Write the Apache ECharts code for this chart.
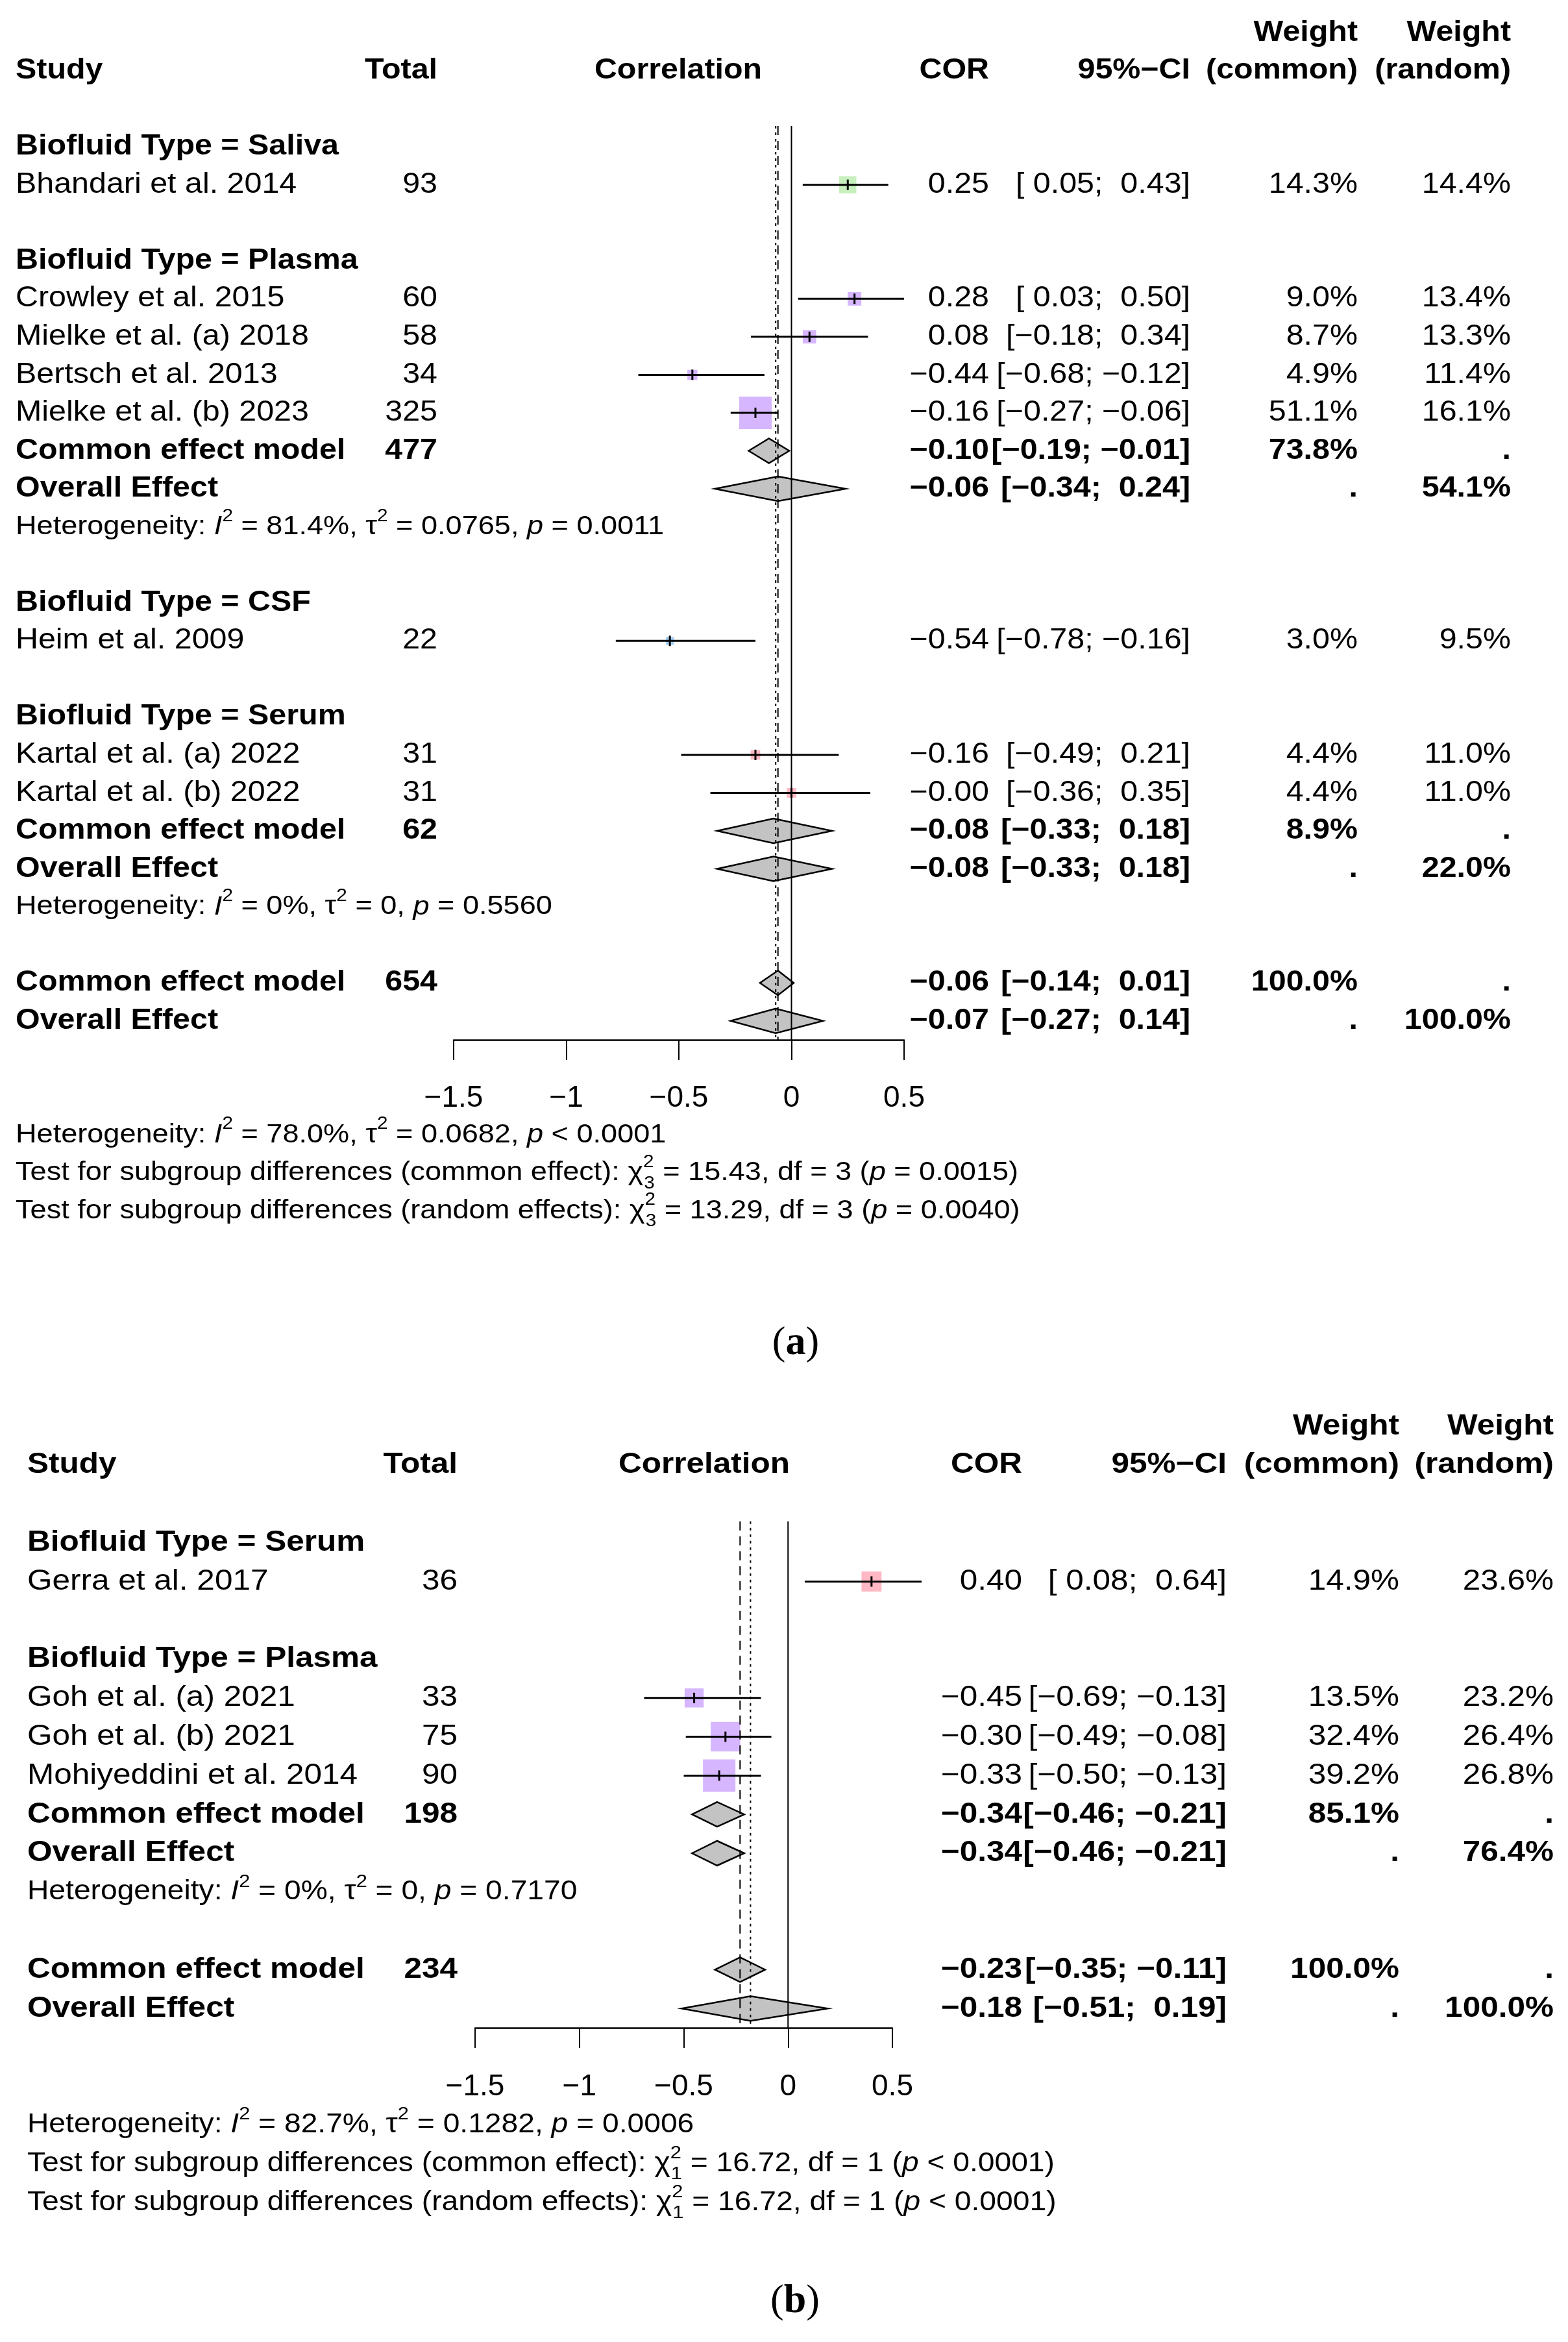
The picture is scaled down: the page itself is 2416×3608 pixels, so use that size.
<!DOCTYPE html>
<html>
<head>
<meta charset="utf-8">
<title>Forest plots</title>
<script src="https://cdn.jsdelivr.net/npm/echarts@6.0.0/dist/echarts.min.js"></script>
<style>
  html, body { margin: 0; padding: 0; background: #fff; }
  #chart { width: 2416px; height: 3608px; }
</style>
</head>
<body>
<div id="chart"></div>
<script>
const FONT = '"Liberation Sans", Arial, Helvetica, sans-serif'
const SERIF = '"Liberation Serif", "Times New Roman", serif'
const MINUS = '\u2212'
const SX = 1.1
const SQ_MAX = 50
const DIAMOND_H = 19

const GROUP_COLORS = { Saliva: '#c8f0be', Plasma: '#d6b6ff', CSF: '#9fcdf6', Serum: '#ffb8c4' }

const ticks = [-1.5, -1, -0.5, 0, 0.5]
const tickLabels = [MINUS + '1.5', MINUS + '1', MINUS + '0.5', '0', '0.5']

// panel (a)
const groupsA = ['Saliva', 'Plasma', 'CSF', 'Serum']
const studiesA = ['Bhandari et al. 2014', 'Crowley et al. 2015', 'Mielke et al. (a) 2018', 'Bertsch et al. 2013',
  'Mielke et al. (b) 2023', 'Heim et al. 2009', 'Kartal et al. (a) 2022', 'Kartal et al. (b) 2022']
const studyGroupA = [0, 1, 1, 1, 1, 2, 3, 3]
const totalsA = [93, 60, 58, 34, 325, 22, 31, 31]
const corA = [0.25, 0.28, 0.08, -0.44, -0.16, -0.54, -0.16, -0.00]
const lowerA = [0.05, 0.03, -0.18, -0.68, -0.27, -0.78, -0.49, -0.36]
const upperA = [0.43, 0.50, 0.34, -0.12, -0.06, -0.16, 0.21, 0.35]
const wCommonA = [14.3, 9.0, 8.7, 4.9, 51.1, 3.0, 4.4, 4.4]
const wRandomA = [14.4, 13.4, 13.3, 11.4, 16.1, 9.5, 11.0, 11.0]
// subgroup summaries, null where the subgroup has one study
const subTotalA = [null, 477, null, 62]
const subCommonA = [null, [-0.10, -0.19, -0.01], null, [-0.08, -0.33, 0.18]]
const subRandomA = [null, [-0.06, -0.34, 0.24], null, [-0.08, -0.33, 0.18]]
const subWeightA = [null, [73.8, 54.1], null, [8.9, 22.0]]
const subHetA = [null, ['81.4%', '0.0765', '= 0.0011'], null, ['0%', '0', '= 0.5560']]
const totalA = 654
const commonA = [-0.06, -0.14, 0.01]
const randomA = [-0.07, -0.27, 0.14]
const hetA = ['78.0%', '0.0682', '< 0.0001']
const testA = [['common effect', 3, '15.43', '= 0.0015'], ['random effects', 3, '13.29', '= 0.0040']]

// panel (b)
const groupsB = ['Serum', 'Plasma']
const studiesB = ['Gerra et al. 2017', 'Goh et al. (a) 2021', 'Goh et al. (b) 2021', 'Mohiyeddini et al. 2014']
const studyGroupB = [0, 1, 1, 1]
const totalsB = [36, 33, 75, 90]
const corB = [0.40, -0.45, -0.30, -0.33]
const lowerB = [0.08, -0.69, -0.49, -0.50]
const upperB = [0.64, -0.13, -0.08, -0.13]
const wCommonB = [14.9, 13.5, 32.4, 39.2]
const wRandomB = [23.6, 23.2, 26.4, 26.8]
const subTotalB = [null, 198]
const subCommonB = [null, [-0.34, -0.46, -0.21]]
const subRandomB = [null, [-0.34, -0.46, -0.21]]
const subWeightB = [null, [85.1, 76.4]]
const subHetB = [null, ['0%', '0', '= 0.7170']]
const totalB = 234
const commonB = [-0.23, -0.35, -0.11]
const randomB = [-0.18, -0.51, 0.19]
const hetB = ['82.7%', '0.1282', '= 0.0006']
const testB = [['common effect', 1, '16.72', '< 0.0001'], ['random effects', 1, '16.72', '< 0.0001']]

const LAYOUT = [
  { row0: 109, rowH: 58.55, left: 699, width: 694, font: 44, tickMargin: 90, letter: 'a', letterX: 1226, letterY: 2070,
    cols: { study: 24, total: 674, corr: 1045, cor: 1524, ci: 1834, wc: 2092, wr: 2328 } },
  { row0: 2257, rowH: 59.8, left: 732, width: 643, font: 45, tickMargin: 91, letter: 'b', letterX: 1225, letterY: 3546,
    cols: { study: 42, total: 705, corr: 1085, cor: 1575, ci: 1890, wc: 2156, wr: 2394 } }
]

function num(v) {
  const neg = v < 0 || Object.is(v, -0)
  return (neg ? MINUS : '') + Math.abs(v).toFixed(2)
}
function padNum(v) {
  const neg = v < 0 || Object.is(v, -0)
  return (neg ? MINUS : ' ') + Math.abs(v).toFixed(2)
}
function ci(lo, hi) { return '[' + padNum(lo) + '; ' + padNum(hi) + ']' }
function pct(w) { return w == null ? '.' : w.toFixed(1) + '%' }

function hetText(h) {
  return '{t|Heterogeneity: }{i|I}{sp|2}{t| = ' + h[0] + ', \u03c4}{sp|2}{t| = ' + h[1] + ', }{i|p}{t| ' + h[2] + '}'
}
function testText(t) {
  return '{t|Test for subgroup differences (' + t[0] + '): \u03c7}{sx|2}{sb|' + t[1] + '}{t| = ' + t[2] +
    ', df = ' + t[1] + ' (}{i|p}{t| ' + t[3] + ')}'
}

function buildPanel(d) {
  const cells = []
  const squares = []
  const diamonds = []
  const cell = (row, col, text, bold, rich) => cells.push({ row, col, text, bold: !!bold, rich: !!rich })

  cell(-1, 'wc', 'Weight', true)
  cell(-1, 'wr', 'Weight', true)
  cell(0, 'study', 'Study', true)
  cell(0, 'total', 'Total', true)
  cell(0, 'corr', 'Correlation', true)
  cell(0, 'cor', 'COR', true)
  cell(0, 'ci', '95%' + MINUS + 'CI', true)
  cell(0, 'wc', '(common)', true)
  cell(0, 'wr', '(random)', true)

  let row = 2
  d.groups.forEach((g, gi) => {
    cell(row, 'study', 'Biofluid Type = ' + g, true)
    row++
    d.studyGroup.forEach((sg, i) => {
      if (sg !== gi) return
      squares.push([d.cor[i], row, d.lower[i], d.upper[i], d.wCommon[i], gi])
      cell(row, 'study', d.studies[i])
      cell(row, 'total', String(d.totals[i]))
      cell(row, 'cor', num(d.cor[i]))
      cell(row, 'ci', ci(d.lower[i], d.upper[i]))
      cell(row, 'wc', pct(d.wCommon[i]))
      cell(row, 'wr', pct(d.wRandom[i]))
      row++
    })
    if (d.subTotal[gi] != null) {
      const c = d.subCommon[gi]
      const r = d.subRandom[gi]
      const w = d.subWeight[gi]
      diamonds.push([c[0], row, c[1], c[2]])
      cell(row, 'study', 'Common effect model', true)
      cell(row, 'total', String(d.subTotal[gi]), true)
      cell(row, 'cor', num(c[0]), true)
      cell(row, 'ci', ci(c[1], c[2]), true)
      cell(row, 'wc', pct(w[0]), true)
      cell(row, 'wr', '.', true)
      row++
      diamonds.push([r[0], row, r[1], r[2]])
      cell(row, 'study', 'Overall Effect', true)
      cell(row, 'cor', num(r[0]), true)
      cell(row, 'ci', ci(r[1], r[2]), true)
      cell(row, 'wc', '.', true)
      cell(row, 'wr', pct(w[1]), true)
      row++
      cell(row, 'study', hetText(d.subHet[gi]), false, true)
      row++
    }
    row++
  })

  diamonds.push([d.common[0], row, d.common[1], d.common[2]])
  cell(row, 'study', 'Common effect model', true)
  cell(row, 'total', String(d.total), true)
  cell(row, 'cor', num(d.common[0]), true)
  cell(row, 'ci', ci(d.common[1], d.common[2]), true)
  cell(row, 'wc', pct(100), true)
  cell(row, 'wr', '.', true)
  row++
  diamonds.push([d.random[0], row, d.random[1], d.random[2]])
  cell(row, 'study', 'Overall Effect', true)
  cell(row, 'cor', num(d.random[0]), true)
  cell(row, 'ci', ci(d.random[1], d.random[2]), true)
  cell(row, 'wc', '.', true)
  cell(row, 'wr', pct(100), true)

  const axisRow = row + 0.5
  cell(axisRow + 2.5, 'study', hetText(d.het), false, true)
  cell(axisRow + 3.5, 'study', testText(d.test[0]), false, true)
  cell(axisRow + 4.5, 'study', testText(d.test[1]), false, true)

  // solid null line, dashed common effect, dotted random effects
  const refLines = [[0, 0], [d.common[0], 1], [d.random[0], 2]]
  return { cells, squares, diamonds, refLines, axisRow, groups: d.groups }
}

const panels = [
  buildPanel({ groups: groupsA, studies: studiesA, studyGroup: studyGroupA, totals: totalsA, cor: corA, lower: lowerA,
    upper: upperA, wCommon: wCommonA, wRandom: wRandomA, subTotal: subTotalA, subCommon: subCommonA,
    subRandom: subRandomA, subWeight: subWeightA, subHet: subHetA, total: totalA, common: commonA,
    random: randomA, het: hetA, test: testA }),
  buildPanel({ groups: groupsB, studies: studiesB, studyGroup: studyGroupB, totals: totalsB, cor: corB, lower: lowerB,
    upper: upperB, wCommon: wCommonB, wRandom: wRandomB, subTotal: subTotalB, subCommon: subCommonB,
    subRandom: subRandomB, subWeight: subWeightB, subHet: subHetB, total: totalB, common: commonB,
    random: randomB, het: hetB, test: testB })
]

// heterogeneity / test lines are set a little smaller than the table
function richStyles(bodyFont) {
  const f = Math.round(bodyFont * 0.935)
  const base = { fontFamily: FONT, fontSize: f, fill: '#000', lineHeight: 60, verticalAlign: 'middle' }
  const small = Math.round(bodyFont * 0.62)
  return {
    t: base,
    i: Object.assign({}, base, { fontStyle: 'italic' }),
    sp: { fontFamily: FONT, fontSize: small, fill: '#000', lineHeight: 32, verticalAlign: 'top' },
    sx: { fontFamily: FONT, fontSize: small, fill: '#000', lineHeight: 20, verticalAlign: 'top', width: 1 },
    sb: { fontFamily: FONT, fontSize: small, fill: '#000', lineHeight: 24, verticalAlign: 'bottom' }
  }
}

const grids = []
const xAxes = []
const yAxes = []
const series = []
const graphics = []

panels.forEach((p, pi) => {
  const L = LAYOUT[pi]
  const top = L.row0 - 1.5 * L.rowH
  grids.push({ left: L.left, width: L.width, top: top, height: (p.axisRow + 1.5) * L.rowH })
  xAxes.push({
    gridIndex: pi, type: 'value', position: 'bottom', min: ticks[0], max: ticks[ticks.length - 1], interval: 0.5,
    axisLine: { show: true, onZero: false, lineStyle: { color: '#000', width: 2.5 } },
    axisTick: { show: true, length: 31, lineStyle: { color: '#000', width: 2 } },
    axisLabel: {
      color: '#000', fontFamily: FONT, fontSize: 46, margin: L.tickMargin, verticalAlign: 'middle',
      formatter: (v) => tickLabels[ticks.indexOf(v)]
    },
    splitLine: { show: false }
  })
  yAxes.push({ gridIndex: pi, type: 'value', inverse: true, min: -1.5, max: p.axisRow, show: false })

  const wmax = Math.max(...p.squares.map((s) => s[4]))

  series.push({
    type: 'custom', xAxisIndex: pi, yAxisIndex: pi, silent: true, animation: false, z: 2,
    data: p.squares,
    renderItem: (params, api) => {
      const row = api.value(1)
      const c = api.coord([api.value(0), row])
      const a = api.coord([api.value(2), row])
      const b = api.coord([api.value(3), row])
      const size = SQ_MAX * Math.sqrt(api.value(4) / wmax)
      const color = GROUP_COLORS[p.groups[api.value(5)]]
      return {
        type: 'group',
        children: [
          { type: 'rect', shape: { x: c[0] - size / 2, y: c[1] - size / 2, width: size, height: size }, style: { fill: color } },
          { type: 'line', shape: { x1: a[0], y1: a[1], x2: b[0], y2: b[1] }, style: { stroke: '#000', lineWidth: 3 } },
          { type: 'line', shape: { x1: c[0], y1: c[1] - 8, x2: c[0], y2: c[1] + 8 }, style: { stroke: '#000', lineWidth: 3 } }
        ]
      }
    }
  })

  series.push({
    type: 'custom', xAxisIndex: pi, yAxisIndex: pi, silent: true, animation: false, z: 3,
    data: p.diamonds,
    renderItem: (params, api) => {
      const row = api.value(1)
      const c = api.coord([api.value(0), row])
      const a = api.coord([api.value(2), row])
      const b = api.coord([api.value(3), row])
      return {
        type: 'polygon',
        shape: { points: [[a[0], a[1]], [c[0], c[1] - DIAMOND_H], [b[0], b[1]], [c[0], c[1] + DIAMOND_H]] },
        style: { fill: '#c3c3c3', stroke: '#000', lineWidth: 2.5 }
      }
    }
  })

  series.push({
    type: 'custom', xAxisIndex: pi, yAxisIndex: pi, silent: true, animation: false, z: 4,
    data: p.refLines,
    renderItem: (params, api) => {
      const kind = api.value(1)
      const a = api.coord([api.value(0), 1.45])
      const b = api.coord([api.value(0), p.axisRow])
      const dash = kind === 1 ? [14, 9] : kind === 2 ? [4, 6] : null
      return {
        type: 'line',
        shape: { x1: a[0], y1: a[1], x2: b[0], y2: b[1] },
        style: { stroke: '#000', lineWidth: 2, lineDash: dash }
      }
    }
  })

  series.push({
    type: 'custom', xAxisIndex: pi, yAxisIndex: pi, silent: true, animation: false, z: 5,
    data: p.cells.map((c, i) => [0, c.row, i]),
    renderItem: (params, api) => {
      const c = p.cells[api.value(2)]
      const y = api.coord([0, api.value(1)])[1]
      const align = c.col === 'study' ? 'left' : c.col === 'corr' ? 'center' : 'right'
      const style = {
        text: c.text, fill: '#000', fontFamily: FONT, fontSize: L.font,
        fontWeight: c.bold ? 'bold' : 'normal', align: align, verticalAlign: 'middle'
      }
      if (c.rich) style.rich = richStyles(L.font)
      return { type: 'text', x: L.cols[c.col], y: y, scaleX: SX, style: style }
    }
  })

  graphics.push({
    type: 'text', x: L.letterX, y: L.letterY,
    style: {
      text: '{p|(}{b|' + L.letter + '}{p|)}', align: 'center', verticalAlign: 'middle',
      rich: {
        p: { fontFamily: SERIF, fontSize: 62, fill: '#000' },
        b: { fontFamily: SERIF, fontSize: 62, fontWeight: 'bold', fill: '#000' }
      }
    }
  })
})

const chart = echarts.init(document.getElementById('chart'))
chart.setOption({
  backgroundColor: '#fff',
  animation: false,
  grid: grids,
  xAxis: xAxes,
  yAxis: yAxes,
  series: series,
  graphic: graphics
})
</script>
</body>
</html>
